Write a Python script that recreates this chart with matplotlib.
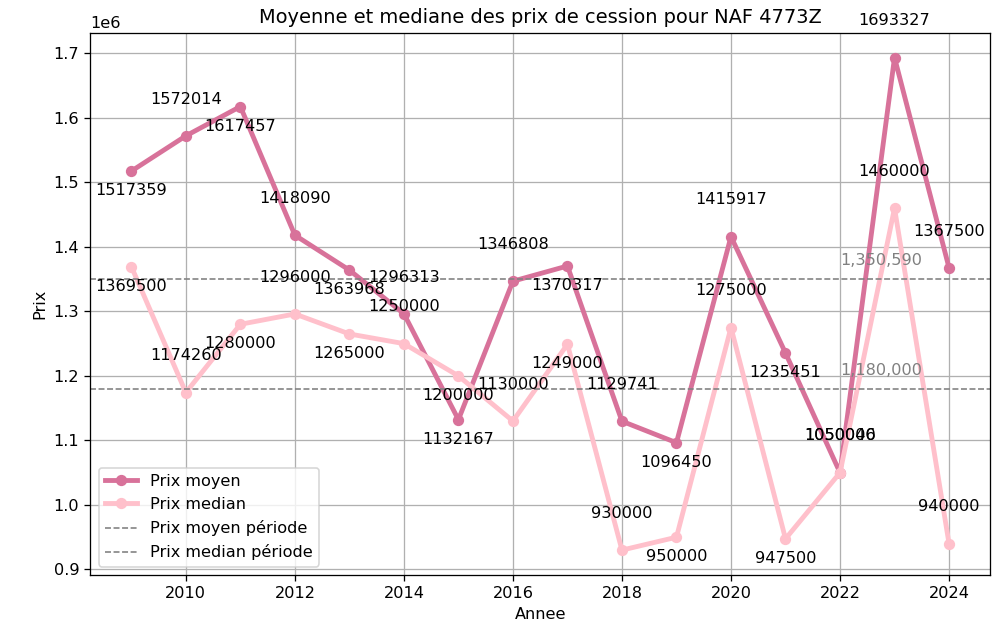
import numpy as np
import matplotlib.pyplot as plt

### Data
annees = [2009, 2010, 2011, 2012, 2013, 2014, 2015, 2016,
          2017, 2018, 2019, 2020, 2021, 2022, 2023, 2024]
prix_moyen = [1517359, 1572014, 1617457, 1418090, 1363968, 1296313, 1132167, 1346808,
              1370317, 1129741, 1096450, 1415917, 1235451, 1050046, 1693327, 1367500]
prix_median = [1369500, 1174260, 1280000, 1296000, 1265000, 1250000, 1200000, 1130000,
               1249000, 930000, 950000, 1275000, 947500, 1050000, 1460000, 940000]
moyen_periode = 1350590
median_periode = 1180000

c_moyen = '#d8729a'
c_median = '#ffc0cb'

dpi = 116
fig, ax = plt.subplots(figsize=(1005 / dpi, 622 / dpi), dpi=dpi)
fig.subplots_adjust(left=0.09, right=0.985, top=0.947, bottom=0.076)

ax.plot(annees, prix_moyen, color=c_moyen, linewidth=3, marker='o', label='Prix moyen')
ax.plot(annees, prix_median, color=c_median, linewidth=3, marker='o', label='Prix median')
ax.axhline(moyen_periode, color='gray', linestyle='--', linewidth=1, label='Prix moyen période')
ax.axhline(median_periode, color='gray', linestyle='--', linewidth=1, label='Prix median période')

### Value labels, alternating above / below
for i, (x, m, md) in enumerate(zip(annees, prix_moyen, prix_median)):
    dy = 20 if (i % 2 == 1 or i >= 13) else -15
    ax.annotate(str(m), (x, m), textcoords='offset points', xytext=(0, dy),
                ha='center', fontsize=10, annotation_clip=False)
    ax.annotate(str(md), (x, md), textcoords='offset points', xytext=(0, dy),
                ha='center', fontsize=10, annotation_clip=False)

ax.text(2022, moyen_periode + 17000, f'{moyen_periode:,}', color='gray', fontsize=10, va='bottom')
ax.text(2022, median_periode + 17000, f'{median_periode:,}', color='gray', fontsize=10, va='bottom')

ax.set_title('Moyenne et mediane des prix de cession pour NAF 4773Z')
ax.set_xlabel('Annee')
ax.set_ylabel('Prix')
ax.grid(True)
ax.legend(loc='lower left')

plt.savefig('out.png')
